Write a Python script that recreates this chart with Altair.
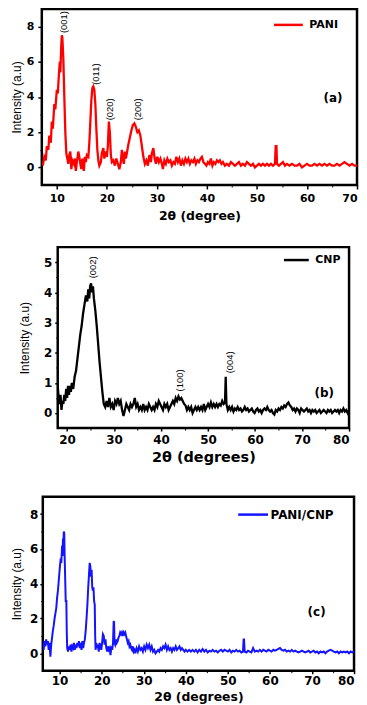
import altair as alt
import pandas as pd

# ---------------- Panel (a): PANI ----------------
tt_a = [7.2, 7.5, 7.8, 8.0, 8.3, 8.5, 8.8, 9.0, 9.2, 9.5, 9.7, 10.0, 10.2, 10.4, 10.6, 10.7, 10.9, 11.0, 11.1, 11.3,
        11.5, 11.7, 11.9, 12.1, 12.3, 12.5, 12.7, 12.9, 13.1, 13.4, 13.6, 13.8, 14.0, 14.3, 14.5, 14.7, 14.9, 15.1, 15.4, 15.6,
        15.8, 16.0, 16.3, 16.5, 16.7, 16.9, 17.1, 17.3, 17.5, 17.7, 17.9, 18.1, 18.3, 18.5, 18.8, 19.0, 19.3, 19.5, 19.8, 20.0,
        20.2, 20.4, 20.6, 20.8, 21.0, 21.3, 21.6, 21.9, 22.2, 22.5, 22.8, 23.0, 23.2, 23.4, 23.6, 23.8, 24.0, 24.3, 24.6, 24.9,
        25.2, 25.5, 25.8, 26.1, 26.4, 26.7, 27.0, 27.3, 27.6, 27.9, 28.2, 28.5, 28.8, 29.0, 29.3, 29.5, 29.8, 30.1, 30.4, 30.7,
        31.0, 31.2, 31.5, 31.8, 32.1, 32.4, 32.7, 33.0, 33.3, 33.6, 33.9, 34.2, 34.5, 34.8, 35.1, 35.4, 35.7, 36.0, 36.3, 36.6,
        36.9, 37.2, 37.5, 37.8, 38.1, 38.4, 38.7, 39.0, 39.3, 39.6, 39.9, 40.2, 40.5, 40.8, 41.1, 41.4, 41.7, 42.0, 42.3, 42.6,
        42.9, 43.2, 43.6, 44.0, 44.4, 44.8, 45.2, 45.6, 46.0, 46.4, 46.8, 47.2, 47.6, 48.0, 48.4, 48.8, 49.2, 49.6, 50.0, 50.4,
        50.8, 51.2, 51.6, 52.0, 52.4, 52.8, 53.2, 53.6, 53.75, 53.9, 54.0, 54.4, 54.8, 55.2, 55.6, 56.0, 56.5, 57.0, 57.5, 58.0,
        58.5, 59.0, 59.5, 60.0, 60.5, 61.0, 61.5, 62.0, 62.5, 63.0, 63.5, 64.0, 64.5, 65.0, 65.5, 66.0, 66.5, 67.0, 67.5, 68.0,
        68.5, 69.0, 69.5, 70.0]
int_a = [0.1, 0.6, 0.4, 1.2, 1.0, 1.8, 1.4, 2.6, 2.2, 3.6, 3.3, 4.4, 4.2, 5.2, 6.0, 5.4, 7.0, 7.5, 7.4, 6.2,
         4.0, 2.0, 0.8, 0.5, 0.2, 0.7, 0.9, -0.1, 0.4, 0.2, 0.5, -0.2, 0.3, 0.9, 0.6, 0.2, -0.1, 0.5, -0.2, 0.6,
         0.3, 0.7, 0.6, 1.4, 2.6, 3.8, 4.5, 4.6, 4.4, 3.6, 2.2, 1.0, 0.4, 0.1, 0.3, 0.8, 1.1, 0.5, 0.9, 0.6,
         1.2, 2.6, 2.0, 0.7, 0.3, 0.4, 0.1, 0.5, 0.2, -0.1, 0.3, 1.0, 0.5, 0.2, 0.9, 0.5, 0.8, 1.3, 1.7, 2.1,
         2.4, 2.5, 2.3, 2.0, 2.1, 1.8, 1.2, 0.6, 0.2, 0.4, 0.1, 0.7, 0.3, 0.8, 1.1, 0.6, 0.2, 0.6, 0.3, 0.5,
         0.2, -0.1, 0.4, 0.2, 0.5, 0.3, 0.4, 0.1, 0.3, 0.2, 0.6, 0.3, 0.5, 0.1, 0.4, 0.2, 0.5, 0.3, 0.5, 0.2,
         0.4, 0.3, 0.5, 0.2, 0.4, 0.3, 0.5, 0.6, 0.3, 0.2, 0.1, 0.3, 0.2, 0.5, 0.1, 0.3, 0.2, 0.4, 0.3, 0.4,
         0.2, 0.3, 0.1, 0.2, 0.1, 0.3, 0.2, 0.1, 0.2, 0.3, 0.1, 0.2, 0.1, 0.3, 0.2, 0.1, 0.2, 0.0, 0.1, 0.2,
         0.1, 0.2, 0.1, 0.2, 0.1, 0.2, 0.1, 0.2, 1.2, 1.2, 0.2, 0.1, 0.2, 0.3, 0.1, 0.2, 0.1, 0.2, 0.1, 0.1,
         0.2, 0.0, 0.1, 0.2, 0.1, 0.1, 0.2, 0.1, 0.2, 0.1, 0.2, 0.1, 0.2, 0.1, 0.1, 0.2, 0.1, 0.2, 0.3, 0.2,
         0.1, 0.2, 0.1, 0.1]
peak_lab_a = ["(001)", "(011)", "(020)", "(200)"]
peak_x_a = [11.4, 17.8, 20.6, 26.3]
peak_y_a = [8.26, 5.3, 3.3, 3.3]

# ---------------- Panel (b): CNP ----------------
tt_b = [18.0, 18.2, 18.4, 18.6, 18.8, 19.0, 19.2, 19.4, 19.6, 19.8, 20.0, 20.2, 20.4, 20.6, 20.8, 21.0, 21.3, 21.6, 21.9, 22.2,
        22.5, 22.8, 23.1, 23.4, 23.7, 24.0, 24.3, 24.5, 24.7, 24.9, 25.1, 25.3, 25.5, 25.7, 26.0, 26.3, 26.6, 26.9, 27.2, 27.5,
        27.8, 28.1, 28.4, 28.7, 29.0, 29.3, 29.6, 29.9, 30.2, 30.5, 30.8, 31.1, 31.4, 31.7, 32.0, 32.3, 32.6, 32.9, 33.2, 33.5,
        33.8, 34.1, 34.4, 34.7, 35.0, 35.3, 35.6, 35.9, 36.2, 36.5, 36.8, 37.1, 37.4, 37.7, 38.0, 38.3, 38.6, 38.9, 39.2, 39.5,
        39.8, 40.1, 40.4, 40.7, 41.0, 41.3, 41.6, 41.9, 42.2, 42.5, 42.8, 43.1, 43.4, 43.7, 44.0, 44.3, 44.6, 44.9, 45.2, 45.5,
        45.8, 46.1, 46.4, 46.7, 47.0, 47.3, 47.6, 47.9, 48.2, 48.5, 48.8, 49.1, 49.4, 49.7, 50.0, 50.3, 50.6, 50.9, 51.2, 51.5,
        51.8, 52.1, 52.4, 52.7, 53.0, 53.3, 53.6, 53.75, 53.9, 54.2, 54.5, 54.8, 55.1, 55.4, 55.7, 56.0, 56.3, 56.6, 56.9, 57.2,
        57.5, 57.8, 58.1, 58.4, 58.7, 59.0, 59.3, 59.6, 59.9, 60.2, 60.5, 60.8, 61.1, 61.4, 61.7, 62.0, 62.3, 62.6, 62.9, 63.2,
        63.5, 63.8, 64.1, 64.4, 64.7, 65.0, 65.3, 65.6, 65.9, 66.2, 66.5, 66.8, 67.1, 67.4, 67.7, 68.0, 68.3, 68.6, 68.9, 69.2,
        69.5, 69.8, 70.1, 70.4, 70.7, 71.0, 71.3, 71.6, 71.9, 72.2, 72.5, 72.8, 73.1, 73.4, 73.7, 74.0, 74.3, 74.6, 74.9, 75.2,
        75.5, 75.8, 76.1, 76.4, 76.7, 77.0, 77.3, 77.6, 77.9, 78.2, 78.5, 78.8, 79.1, 79.4, 79.7, 80.0]
int_b = [0.9, 0.5, 0.3, 0.6, 0.1, 0.4, 0.3, 0.6, 0.4, 0.8, 0.5, 0.9, 0.6, 0.9, 0.7, 1.0, 0.8, 1.2, 1.4, 1.8,
         2.2, 2.6, 2.9, 3.3, 3.6, 3.9, 3.7, 4.1, 3.8, 4.2, 4.3, 4.0, 4.2, 3.8, 3.4, 2.9, 2.3, 1.7, 1.2, 0.7,
         0.3, 0.2, 0.4, 0.2, 0.5, 0.2, 0.3, 0.1, 0.4, 0.3, 0.5, 0.3, 0.4, 0.1, -0.1, 0.1, 0.3, 0.2, 0.1, 0.3,
         0.2, 0.3, 0.5, 0.2, 0.3, 0.1, 0.2, 0.1, 0.3, 0.1, 0.2, 0.1, 0.3, 0.2, 0.1, 0.2, 0.1, 0.3, 0.2, 0.4,
         0.3, 0.2, 0.1, 0.3, 0.2, 0.3, 0.1, 0.2, 0.3, 0.4, 0.3, 0.5, 0.4, 0.55, 0.45, 0.5, 0.4, 0.3, 0.25, 0.1,
         0.2, 0.1, 0.2, 0.0, 0.1, 0.2, 0.1, 0.2, 0.1, 0.2, 0.1, 0.3, 0.1, 0.2, 0.3, 0.2, 0.35, 0.2, 0.3, 0.2,
         0.3, 0.2, 0.3, 0.25, 0.4, 0.3, 0.35, 1.2, 0.3, 0.1, 0.2, 0.1, 0.2, 0.05, 0.15, 0.1, 0.2, 0.1, 0.15, 0.05,
         0.1, 0.2, 0.1, 0.15, 0.05, 0.1, 0.15, 0.05, 0.0, 0.1, 0.15, 0.05, 0.1, 0.0, 0.1, 0.15, 0.1, 0.2, 0.1, 0.05,
         0.1, 0.0, -0.05, 0.1, 0.05, 0.15, 0.1, 0.2, 0.15, 0.25, 0.2, 0.3, 0.35, 0.25, 0.2, 0.1, 0.15, 0.05, 0.15, 0.1,
         0.0, 0.15, 0.1, 0.05, 0.1, 0.15, 0.05, 0.1, 0.0, 0.1, 0.05, 0.1, 0.0, 0.05, 0.1, 0.0, 0.05, 0.1, 0.05, 0.0,
         0.1, 0.05, 0.1, 0.0, 0.05, 0.1, 0.05, 0.1, 0.0, 0.1, 0.05, 0.15, 0.05, 0.1, 0.0, 0.1]
peak_lab_b = ["(002)", "(100)", "(004)"]
peak_x_b = [25.55, 44.0, 54.7]
peak_y_b = [4.83, 1.08, 1.68]

# ---------------- Panel (c): PANI/CNP ----------------
tt_c = [6.0, 6.2, 6.4, 6.6, 6.8, 7.0, 7.2, 7.4, 7.6, 7.8, 8.0, 8.2, 8.4, 8.6, 8.8, 9.0, 9.2, 9.4, 9.6, 9.8,
        10.0, 10.2, 10.4, 10.6, 10.7, 10.8, 10.9, 11.0, 11.1, 11.2, 11.3, 11.45, 11.6, 11.7, 11.8, 12.0, 12.2, 12.4, 12.6, 12.8,
        13.0, 13.2, 13.4, 13.6, 13.8, 14.0, 14.2, 14.4, 14.6, 14.8, 15.0, 15.2, 15.4, 15.6, 15.8, 16.0, 16.2, 16.4, 16.6, 16.8,
        17.0, 17.15, 17.3, 17.45, 17.6, 17.75, 17.9, 18.05, 18.2, 18.35, 18.45, 18.55, 18.7, 18.9, 19.1, 19.3, 19.5, 19.7, 19.9, 20.1,
        20.3, 20.5, 20.7, 20.9, 21.1, 21.3, 21.5, 21.7, 21.9, 22.1, 22.3, 22.5, 22.7, 22.85, 22.95, 23.05, 23.2, 23.4, 23.6, 23.8,
        24.0, 24.2, 24.4, 24.6, 24.8, 25.0, 25.2, 25.4, 25.6, 25.8, 26.0, 26.2, 26.4, 26.6, 26.8, 27.0, 27.2, 27.4, 27.6, 27.8,
        28.0, 28.3, 28.6, 28.9, 29.2, 29.5, 29.8, 30.1, 30.4, 30.7, 31.0, 31.3, 31.6, 31.9, 32.2, 32.5, 32.8, 33.1, 33.4, 33.7,
        34.0, 34.3, 34.6, 34.9, 35.2, 35.5, 35.8, 36.1, 36.4, 36.7, 37.0, 37.3, 37.6, 37.9, 38.2, 38.5, 38.8, 39.1, 39.4, 39.7,
        40.0, 40.4, 40.8, 41.2, 41.6, 42.0, 42.4, 42.8, 43.2, 43.6, 44.0, 44.4, 44.8, 45.2, 45.6, 46.0, 46.4, 46.8, 47.2, 47.6,
        48.0, 48.4, 48.8, 49.2, 49.6, 50.0, 50.4, 50.8, 51.2, 51.6, 52.0, 52.4, 52.8, 53.2, 53.6, 53.75, 53.85, 54.0, 54.4, 54.8,
        55.2, 55.6, 56.0, 56.4, 56.8, 57.2, 57.6, 58.0, 58.4, 58.8, 59.2, 59.6, 60.0, 60.4, 60.8, 61.2, 61.6, 62.0, 62.4, 62.8,
        63.2, 63.6, 64.0, 64.4, 64.8, 65.2, 65.6, 66.0, 66.4, 66.8, 67.2, 67.6, 68.0, 68.4, 68.8, 69.2, 69.6, 70.0, 70.4, 70.8,
        71.2, 71.6, 72.0, 72.4, 72.8, 73.2, 73.6, 74.0, 74.4, 74.8, 75.2, 75.6, 76.0, 76.4, 76.8, 77.2, 77.6, 78.0, 78.4, 78.8,
        79.2, 79.6, 80.0]
int_c = [0.5, 0.2, 0.7, 0.4, 0.8, 0.5, 0.7, 0.2, 0.6, -0.2, 0.5, 0.9, 1.3, 1.6, 2.0, 2.3, 2.6, 3.2, 3.6, 4.2,
         4.8, 5.3, 5.2, 6.2, 5.6, 6.6, 6.4, 7.0, 6.9, 5.5, 4.5, 3.0, 3.0, 1.2, 0.3, 0.1, 0.4, 0.2, 0.5, 0.1,
         0.4, 0.3, 0.6, 0.2, 0.5, 0.3, 0.6, 0.4, 0.7, 0.3, 0.6, 0.2, 0.7, 0.3, 0.6, 0.8, 1.3, 2.0, 2.8, 3.8,
         4.6, 5.2, 5.0, 4.4, 4.8, 3.8, 3.6, 3.8, 3.0, 2.8, 1.0, 0.2, 0.6, 0.3, 0.5, 0.1, 0.6, 0.4, 0.2, 0.6,
         1.1, 1.0, 0.5, 0.8, 0.3, 0.1, 0.4, 0.2, 0.3, -0.1, 0.4, 0.2, 0.6, 1.85, 1.8, 0.6, 0.5, 0.8, 0.6, 0.7,
         0.9, 1.0, 1.2, 1.1, 1.2, 1.0, 1.2, 1.1, 1.2, 1.0, 0.8, 0.6, 0.7, 0.4, 0.5, 0.3, 0.2, 0.4, 0.1, 0.2,
         0.0, 0.3, 0.1, 0.4, 0.2, 0.3, 0.1, 0.4, 0.2, 0.5, 0.3, 0.5, 0.2, 0.4, 0.1, 0.2, 0.0, 0.1, 0.2, 0.1,
         0.3, 0.2, 0.4, 0.3, 0.5, 0.2, 0.4, 0.2, 0.3, 0.1, 0.3, 0.2, 0.4, 0.2, 0.3, 0.4, 0.2, 0.3, 0.2, 0.1,
         0.2, 0.1, 0.2, 0.1, 0.2, 0.1, 0.2, 0.05, 0.2, 0.1, 0.25, 0.1, 0.2, 0.05, 0.15, 0.1, 0.2, 0.1, 0.15, 0.05,
         0.15, 0.2, 0.1, 0.2, 0.15, 0.1, 0.2, 0.05, 0.15, 0.1, 0.2, 0.1, 0.15, 0.05, 0.1, 0.8, 0.8, 0.1, 0.05, 0.15,
         0.1, 0.05, 0.3, 0.1, 0.15, 0.1, 0.2, 0.1, 0.2, 0.15, 0.1, 0.2, 0.15, 0.1, 0.2, 0.15, 0.2, 0.25, 0.3, 0.2,
         0.15, 0.2, 0.1, 0.15, 0.1, 0.2, 0.1, 0.15, 0.1, 0.05, 0.1, 0.15, 0.1, 0.05, 0.1, 0.15, 0.05, 0.1, 0.15, 0.05,
         0.1, 0.0, 0.1, 0.05, 0.1, 0.0, 0.1, 0.15, 0.2, 0.15, 0.1, 0.05, 0.1, 0.0, 0.1, 0.05, 0.1, 0.05, 0.1, 0.0,
         0.1, 0.05, 0.1]

# minor tick positions
minor_x_a = [15, 25, 35, 45, 55, 65]
minor_y_a = [1, 3, 5, 7]
minor_x_b = [25, 35, 45, 55, 65, 75]
minor_y_b = [0.5, 1.5, 2.5, 3.5, 4.5]
minor_x_c = [15, 25, 35, 45, 55, 65, 75]
minor_y_c = [1, 3, 5, 7]

TICK_FONT = "DejaVu Sans"


def panel(tt, inten, name, color, stroke_w, xdom, ydom, xvals, yvals, xminor, yminor, w, h,
          peak_lab, peak_x, peak_y, letter, letter_x, letter_y,
          ytitle_size, ytitle_x, xtitle, xtitle_size, xtitle_y,
          label_size, tick_size, label_pad, leg_x, leg_y, leg_len, leg_font_size, leg_offset, left_ext):
    df = pd.DataFrame({"tt": tt, "I": inten, "series": [name] * len(tt)})
    xscale = alt.Scale(domain=xdom, nice=False, zero=False)
    yscale = alt.Scale(domain=ydom, nice=False, zero=False)
    xaxis = alt.Axis(values=xvals, title=xtitle, grid=False, domain=False, orient="bottom",
                     labelFont=TICK_FONT, labelFontWeight="bold", labelFontSize=label_size,
                     labelColor="black", tickColor="black", tickSize=tick_size, tickWidth=1.5,
                     labelPadding=label_pad, titleFont=TICK_FONT, titleFontWeight="bold",
                     titleFontSize=xtitle_size, titleColor="black", titleX=w / 2, titleY=xtitle_y,
                     titleBaseline="middle", titleAlign="center")
    yaxis = alt.Axis(values=yvals, title="Intensity (a.u)", grid=False, domain=False, orient="left",
                     labelFont=TICK_FONT, labelFontWeight="bold", labelFontSize=label_size,
                     labelColor="black", tickColor="black", tickSize=tick_size, tickWidth=1.5,
                     labelPadding=label_pad, titleFont="Liberation Sans", titleFontWeight="normal",
                     titleFontSize=ytitle_size, titleColor="black", titleX=ytitle_x, titleY=h / 2,
                     titleAngle=270, titleBaseline="middle", titleAlign="center")
    xminor_axis = alt.Axis(values=xminor, title=None, labels=False, grid=False, domain=False,
                           orient="bottom", tickColor="black", tickSize=2, tickWidth=1)
    yminor_axis = alt.Axis(values=yminor, title=None, labels=False, grid=False, domain=False,
                           orient="left", tickColor="black", tickSize=2, tickWidth=1)
    line = alt.Chart(df).mark_line(strokeWidth=stroke_w, clip=True).encode(
        x=alt.X("tt:Q", scale=xscale, axis=xaxis),
        y=alt.Y("I:Q", scale=yscale, axis=yaxis),
        color=alt.Color("series:N", scale=alt.Scale(domain=[name], range=[color]),
                        legend=alt.Legend(orient="none", legendX=leg_x, legendY=leg_y, title=None,
                                          symbolType="stroke", symbolSize=leg_len * leg_len,
                                          symbolStrokeWidth=2.5, symbolStrokeColor=color,
                                          labelFont=TICK_FONT, labelFontWeight="bold",
                                          labelFontSize=leg_font_size, labelColor="black",
                                          labelOffset=leg_offset, padding=0)),
    )
    minor = alt.Chart(df).mark_line(opacity=0, clip=True).encode(
        x=alt.X("tt:Q", scale=xscale, axis=xminor_axis),
        y=alt.Y("I:Q", scale=yscale, axis=yminor_axis),
    )
    layers = [line, minor]
    if peak_lab:
        pk = pd.DataFrame({"tt": peak_x, "I": peak_y, "lab": peak_lab})
        layers.append(alt.Chart(pk).mark_text(angle=270, align="center", baseline="middle",
                                              font="Liberation Sans", fontSize=9.5,
                                              color="black").encode(
            x=alt.X("tt:Q", scale=xscale, axis=None), y=alt.Y("I:Q", scale=yscale, axis=None),
            text="lab:N"))
    lt = pd.DataFrame({"tt": [letter_x], "I": [letter_y], "lab": [letter]})
    layers.append(alt.Chart(lt).mark_text(align="center", baseline="middle", font=TICK_FONT,
                                          fontWeight="bold", fontSize=12, color="black").encode(
        x=alt.X("tt:Q", scale=xscale, axis=None), y=alt.Y("I:Q", scale=yscale, axis=None),
        text="lab:N"))
    anchor = alt.Chart(pd.DataFrame({"k": [0]})).mark_rule(opacity=0).encode(
        x=alt.value(-left_ext), y=alt.value(50), y2=alt.value(60))
    layers.append(anchor)
    return alt.layer(*layers).resolve_axis(x="independent", y="independent").properties(
        width=w, height=h, view=alt.ViewBackground(stroke="black", strokeWidth=2.5))


def spacer(wd):
    return alt.Chart(pd.DataFrame({"k": [0]})).mark_rule(opacity=0).encode(
        x=alt.value(0), y=alt.value(0), y2=alt.value(1)
    ).properties(width=wd, height=1, view=alt.ViewBackground(strokeWidth=0, fillOpacity=0))


def row(sp, pnl):
    return alt.hconcat(spacer(sp), pnl, spacing=0).resolve_scale(color="independent")


pa = panel(tt_a, int_a, "PANI", "#ff0000", 2.3, [7, 70], [-1, 9], [10, 20, 30, 40, 50, 60, 70], [0, 2, 4, 6, 8],
           minor_x_a, minor_y_a,
           317, 177, peak_lab_a, peak_x_a, peak_y_a, "(a)", 65.2, 3.93,
           12, -25.5, "2θ (degree)", 12.5, 31,
           11, 4, 4, 232, 0, 29, 11, 5, 31.7)
pb = panel(tt_b, int_b, "CNP", "#000000", 2.3, [18, 80], [-0.5, 5.5], [20, 30, 40, 50, 60, 70, 80], [0, 1, 2, 3, 4, 5],
           minor_x_b, minor_y_b,
           293, 182, peak_lab_b, peak_x_b, peak_y_b, "(b)", 74.7, 0.67,
           12, -33, "2θ (degrees)", 14.5, 30,
           12, 3, 3, 226, -1, 25, 11, 5, 40)
pc = panel(tt_c, int_c, "PANI/CNP", "#1414ff", 2.0, [6, 80], [-1, 9], [10, 20, 30, 40, 50, 60, 70, 80], [0, 2, 4, 6, 8],
           minor_x_c, minor_y_c,
           313, 175, [], [], [], "(c)", 71.1, 2.36,
           12, -26.5, "2θ (degrees)", 12.5, 26,
           12, 3, 2, 195, 1.5, 30, 12, 1, 32.7)

top = alt.vconcat(row(1, pa), row(8, pb), spacing=20.5).resolve_scale(color="independent")
chart = alt.vconcat(top, row(1, pc), spacing=28.5).resolve_scale(color="independent").properties(
    padding={"left": 0, "top": -3, "right": 0, "bottom": -1}
)

chart.save("out.html", embed_options={"renderer": "svg", "actions": False})
